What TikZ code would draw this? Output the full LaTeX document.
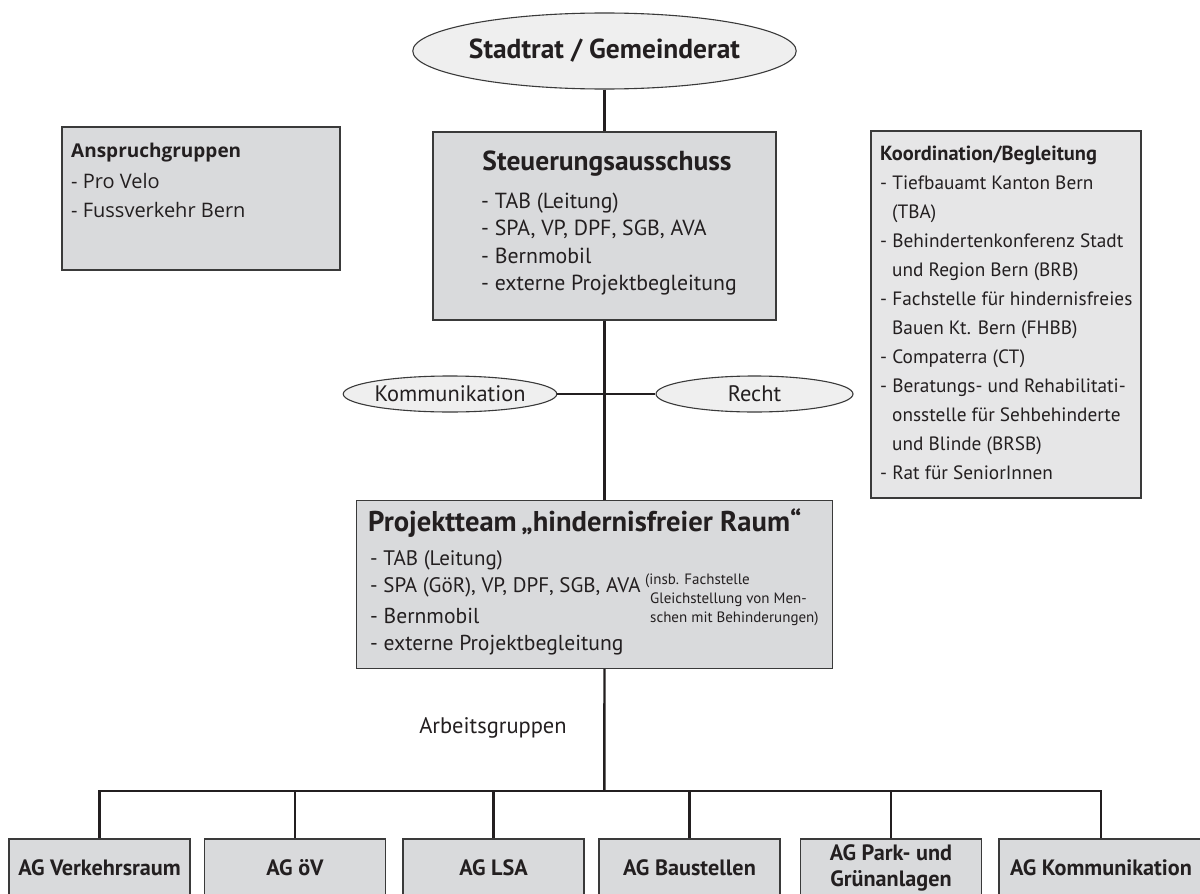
\documentclass[tikz,border=0pt]{standalone}
\usepackage{fontspec}
\setmainfont{PT Sans}
\newfontfamily\osans{Open Sans}
\usetikzlibrary{shapes.geometric}
\definecolor{boxgray}{HTML}{D9DADC}
\definecolor{kogray}{HTML}{E6E6E7}
\definecolor{ellgray}{HTML}{EFEFEF}
\definecolor{ink}{HTML}{231F20}
\definecolor{edge}{HTML}{3A3A3A}
\tikzset{
  box/.style={draw=edge, line width=1.3pt, fill=boxgray, inner sep=0pt, rectangle},
  ell/.style={ellipse, draw=edge, line width=1.1pt, fill=ellgray, inner sep=0pt, text=ink},
  conn/.style={line width=2.4pt, draw=ink},
  txt/.style={inner sep=0pt, text=ink, anchor=base west},
  agbox/.style={box, minimum width=181pt, minimum height=58pt, align=center, text=ink,
     font=\bfseries\fontsize{22.2}{26}\selectfont},
}
\begin{document}
\begin{tikzpicture}[x=1pt,y=-1pt]
\useasboundingbox (0,0) rectangle (1200,894);
\clip (0,0) rectangle (1200,894);
\fill[white] (0,0) rectangle (1200,894);

% top ellipse
\node[ell, minimum width=343pt, minimum height=76pt, font=\bfseries\fontsize{27.5}{30}\selectfont]
  (stadt) at (604.5,51) {Stadtrat / Gemeinderat};

% Steuerungsausschuss
\node[box, minimum width=343pt, minimum height=188pt] (steer) at (604.5,226) {};
\node[txt, anchor=base, font=\bfseries\fontsize{27.5}{30}\selectfont] (steerT) at (607,170) {Steuerungsausschuss};
\foreach \t [count=\i] in {{- TAB (Leitung)},{- SPA, VP, DPF, SGB, AVA},{- Bernmobil},{- externe Projektbegleitung}}
  \node[txt, font=\fontsize{21.8}{24}\selectfont] (st\i) at (481,{208+27.5*(\i-1)}) {\t};

% Anspruchgruppen
\node[box, minimum width=278pt, minimum height=143pt] (ansp) at (201,198.5) {};
\node[txt, font=\osans\bfseries\fontsize{19}{22}\selectfont] (anspT) at (71,157) {Anspruchgruppen};
\node[txt, font=\osans\fontsize{20}{22}\selectfont, text=ink] (an1) at (71,188) {- Pro Velo};
\node[txt, font=\osans\fontsize{20}{22}\selectfont, text=ink] (an2) at (71,217.5) {- Fussverkehr Bern};

% Koordination
\node[box, fill=kogray, minimum width=270pt, minimum height=367pt] (koord) at (1006,314.5) {};
\node[txt, font=\bfseries\fontsize{20.4}{22}\selectfont] (koT) at (880,160) {Koordination/Begleitung};
\foreach \x/\t [count=\i] in {880/{- Tiefbauamt Kanton Bern},892/{(TBA)},880/{- Behindertenkonferenz Stadt},
   892/{und Region Bern (BRB)},880/{- Fachstelle für hindernisfreies},892/{Bauen Kt. Bern (FHBB)},
   880/{- Compaterra (CT)},880/{- Beratungs- und Rehabilitati-},892/{onsstelle für Sehbehinderte},
   892/{und Blinde (BRSB)},880/{- Rat für SeniorInnen}}
  \node[txt, font=\fontsize{19.3}{22}\selectfont] (ko\i) at (\x,{160+29*\i}) {\t};

% side ellipses
\node[ell, minimum width=196pt, minimum height=36pt, font=\fontsize{22.4}{24}\selectfont] (komm) at (450,394) {Kommunikation};
\node[ell, minimum width=197pt, minimum height=36pt, font=\fontsize{22.4}{24}\selectfont] (recht) at (754.5,394) {Recht};

% Projektteam
\node[box, minimum width=476pt, minimum height=168pt] (proj) at (594.5,584.5) {};
\node[txt, font=\bfseries\fontsize{28.6}{32}\selectfont] (projT) at (368,531) {Projektteam\,„hindernisfreier Raum“};
\node[txt, font=\fontsize{21}{24}\selectfont] (pr1) at (370,565) {- TAB (Leitung)};
\node[txt, font=\fontsize{21}{24}\selectfont] (pr2) at (370,592) {- SPA (GöR), VP, DPF, SGB, AVA};
\node[txt, font=\fontsize{21.6}{24}\selectfont] (pr3) at (370,623) {- Bernmobil};
\node[txt, font=\fontsize{21.6}{24}\selectfont] (pr4) at (370,650) {- externe Projektbegleitung};
\node[txt, font=\fontsize{15}{17}\selectfont] (nt1) at (645,584) {(insb. Fachstelle};
\node[txt, font=\fontsize{15}{17}\selectfont] (nt2) at (650,603) {Gleichstellung von Men-};
\node[txt, font=\fontsize{15}{17}\selectfont] (nt3) at (650,622) {schen mit Behinderungen)};

% Arbeitsgruppen label
\node[txt, anchor=base, font=\fontsize{22.5}{24}\selectfont] (arb) at (493,733) {Arbeitsgruppen};

% AG boxes
\node[agbox] (ag1) at (99.5,868) {AG Verkehrsraum};
\node[agbox] (ag2) at (295,868) {AG öV};
\node[agbox] (ag3) at (493.5,868) {AG LSA};
\node[agbox] (ag4) at (689.5,868) {AG Baustellen};
\node[agbox] (ag5) at (891,868) {AG Park- und\\Grünanlagen};
\node[agbox, minimum width=204pt] (ag6) at (1101,868) {AG Kommunikation};

% connectors
\coordinate (bus) at (604.3,791);
\draw[conn] (stadt.south) -- (steer.north);
\draw[conn] (steer.south) -- (steer.south |- proj.north);
\draw[conn] (komm.east) -- (recht.west);
\draw[conn] (steer.south |- proj.south) -- (bus);
\draw[conn] (ag1.north) -- (ag1.north |- bus) -| (ag6.north);
\foreach \k in {2,3,4,5}
  \draw[conn] (ag\k.north) -- (ag\k.north |- bus);
\end{tikzpicture}
\end{document}
